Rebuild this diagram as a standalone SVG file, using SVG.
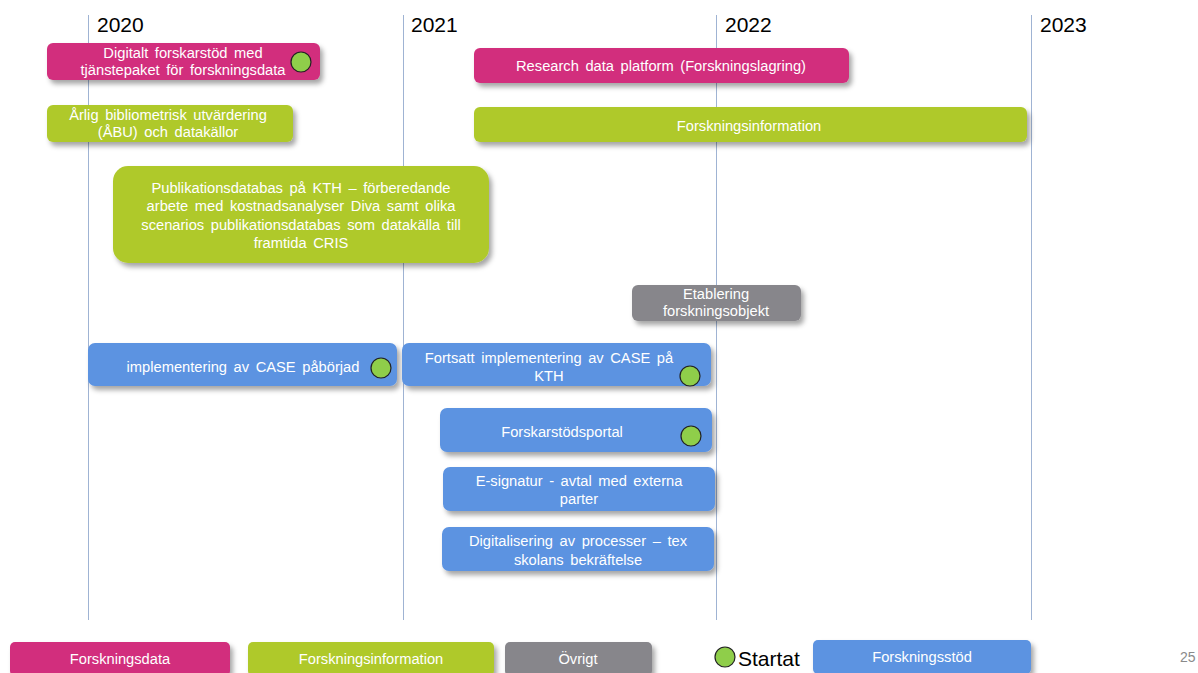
<svg xmlns="http://www.w3.org/2000/svg" width="1198" height="673" viewBox="0 0 1198 673">
<style>
text{font-family:"Liberation Sans",Arial,sans-serif}
.t{fill:#fff;font-size:14.7px;text-anchor:middle;word-spacing:2.5px}
.yr{fill:#000;font-size:21px}
.grid{stroke:#9fb3d3;stroke-width:1}
.pk{fill:#d22e7d}
.gr{fill:#afc92b}
.gy{fill:#87868b}
.bl{fill:#5b93e1}
.dot{fill:#8fce4a;stroke:#222;stroke-width:1.2}
</style>
<defs>
<filter id="sh" x="-10%" y="-20%" width="130%" height="160%">
<feDropShadow dx="3" dy="4" stdDeviation="2.5" flood-color="#000" flood-opacity="0.35"/>
</filter>
</defs>
<g id="timeline">
<line class="grid" x1="88.5" y1="15" x2="88.5" y2="620"/>
<line class="grid" x1="403.5" y1="15" x2="403.5" y2="620"/>
<line class="grid" x1="716.5" y1="15" x2="716.5" y2="620"/>
<line class="grid" x1="1031.5" y1="15" x2="1031.5" y2="620"/>
<text class="yr" x="97" y="32">2020</text>
<text class="yr" x="411" y="32">2021</text>
<text class="yr" x="725" y="32">2022</text>
<text class="yr" x="1040" y="32">2023</text>
</g>
<g id="n1"><rect class="pk" x="47" y="43" width="273" height="37" rx="6" filter="url(#sh)"/>
<text class="t" x="183" y="58">Digitalt forskarstöd med</text>
<text class="t" x="183" y="75">tjänstepaket för forskningsdata</text>
<circle class="dot" cx="301" cy="62" r="10"/></g>
<g id="n2"><rect class="gr" x="47" y="105" width="246" height="37" rx="6" filter="url(#sh)"/>
<text class="t" x="168" y="120">Årlig bibliometrisk utvärdering</text>
<text class="t" x="168" y="137">(ÅBU) och datakällor</text></g>
<g id="n3"><rect class="gr" x="113" y="166" width="376" height="97" rx="15" filter="url(#sh)"/>
<text class="t" x="301" y="193">Publikationsdatabas på KTH – förberedande</text>
<text class="t" x="301" y="211">arbete med kostnadsanalyser Diva samt olika</text>
<text class="t" x="301" y="230">scenarios publikationsdatabas som datakälla till</text>
<text class="t" x="301" y="248">framtida CRIS</text></g>
<g id="n4"><rect class="pk" x="474" y="48" width="375" height="35" rx="6" filter="url(#sh)"/>
<text class="t" x="661" y="71">Research data platform (Forskningslagring)</text></g>
<g id="n5"><rect class="gr" x="474" y="107" width="553" height="35" rx="6" filter="url(#sh)"/>
<text class="t" x="749" y="131">Forskningsinformation</text></g>
<g id="n6"><rect class="gy" x="632" y="285" width="169" height="36" rx="6" filter="url(#sh)"/>
<text class="t" x="716" y="299">Etablering</text>
<text class="t" x="716" y="316">forskningsobjekt</text></g>
<g id="n7"><rect class="bl" x="88" y="343" width="309" height="43" rx="7" filter="url(#sh)"/>
<text class="t" x="243" y="372">implementering av CASE påbörjad</text>
<circle class="dot" cx="381" cy="368" r="10"/></g>
<g id="n8"><rect class="bl" x="402" y="343" width="309" height="43" rx="7" filter="url(#sh)"/>
<text class="t" x="549" y="363">Fortsatt implementering av CASE på</text>
<text class="t" x="549" y="381">KTH</text>
<circle class="dot" cx="690" cy="376" r="10"/></g>
<g id="n9"><rect class="bl" x="440" y="408" width="272" height="44" rx="7" filter="url(#sh)"/>
<text class="t" x="562" y="437">Forskarstödsportal</text>
<circle class="dot" cx="691" cy="436" r="10"/></g>
<g id="n10"><rect class="bl" x="443" y="467" width="272" height="44" rx="7" filter="url(#sh)"/>
<text class="t" x="579" y="486">E-signatur - avtal med externa</text>
<text class="t" x="579" y="504">parter</text></g>
<g id="n11"><rect class="bl" x="442" y="527" width="272" height="44" rx="7" filter="url(#sh)"/>
<text class="t" x="578" y="546">Digitalisering av processer – tex</text>
<text class="t" x="578" y="565">skolans bekräftelse</text></g>
<g id="legend">
<rect class="pk" x="10" y="642" width="220" height="34" rx="5" filter="url(#sh)"/>
<text class="t" x="120" y="664">Forskningsdata</text>
<rect class="gr" x="248" y="642" width="246" height="34" rx="5" filter="url(#sh)"/>
<text class="t" x="371" y="664">Forskningsinformation</text>
<rect class="gy" x="505" y="642" width="147" height="34" rx="5" filter="url(#sh)"/>
<text class="t" x="578" y="664">Övrigt</text>
<circle class="dot" cx="725" cy="657" r="10"/>
<text x="738" y="666" style="font-size:21px;fill:#000">Startat</text>
<rect class="bl" x="813" y="640" width="218" height="34" rx="5" filter="url(#sh)"/>
<text class="t" x="922" y="662">Forskningsstöd</text>
<text x="1180" y="662" style="font-size:14px;fill:#8a8a8a">25</text>
</g>
</svg>
